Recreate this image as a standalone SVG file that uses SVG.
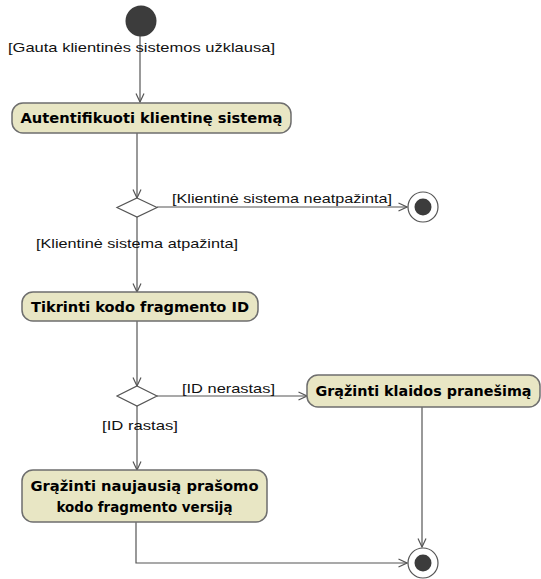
<svg xmlns="http://www.w3.org/2000/svg" width="541" height="579" viewBox="0 0 541 579">
  <style>
    .action { fill: #e8e6c4; stroke: #6e6e6e; stroke-width: 1.5; }
    .action-text { font-family: "DejaVu Sans", Verdana, sans-serif; font-weight: bold; font-size: 14px; fill: #000; text-anchor: middle; }
    .guard { font-family: "Liberation Sans", Arial, sans-serif; font-size: 13px; fill: #111; }
    .edge { fill: none; stroke: #555; stroke-width: 1.2; }
    .decision { fill: #fff; stroke: #555; stroke-width: 1.2; }
    .dot { fill: #3c3c3c; }
    .ring { fill: #fff; stroke: #555; stroke-width: 1.2; }
  </style>
  <defs>
    <marker id="open-arrow" viewBox="0 0 10 10" refX="9.5" refY="5" markerWidth="10" markerHeight="10" markerUnits="userSpaceOnUse" orient="auto">
      <path d="M1,1 L9.5,5 L1,9" fill="none" stroke="#555" stroke-width="1.2"/>
    </marker>
  </defs>
  <rect width="541" height="579" fill="#fff"/>

  <!-- connectors -->
  <g id="connectors">
    <path class="edge" d="M140,36 V102" marker-end="url(#open-arrow)"/>
    <path class="edge" d="M137,133 V198" marker-end="url(#open-arrow)"/>
    <path class="edge" d="M157,207 H407" marker-end="url(#open-arrow)"/>
    <path class="edge" d="M137,217 V292" marker-end="url(#open-arrow)"/>
    <path class="edge" d="M137,320 V386" marker-end="url(#open-arrow)"/>
    <path class="edge" d="M157,396 H307" marker-end="url(#open-arrow)"/>
    <path class="edge" d="M137,406 V470" marker-end="url(#open-arrow)"/>
    <path class="edge" d="M422,407 V547" marker-end="url(#open-arrow)"/>
    <path class="edge" d="M136,522 V563 H407" marker-end="url(#open-arrow)"/>
    <text class="guard" x="8" y="52" textLength="267" lengthAdjust="spacingAndGlyphs">[Gauta klientinės sistemos užklausa]</text>
    <text class="guard" x="172" y="203" textLength="220" lengthAdjust="spacingAndGlyphs">[Klientinė sistema neatpažinta]</text>
    <text class="guard" x="36" y="248" textLength="202" lengthAdjust="spacingAndGlyphs">[Klientinė sistema atpažinta]</text>
    <text class="guard" x="182" y="393" textLength="93" lengthAdjust="spacingAndGlyphs">[ID nerastas]</text>
    <text class="guard" x="102" y="430" textLength="76" lengthAdjust="spacingAndGlyphs">[ID rastas]</text>
  </g>

  <!-- nodes -->
  <g id="initial">
    <circle class="dot" cx="141" cy="21" r="15.5"/>
  </g>
  <g id="authenticate">
    <rect class="action" x="12" y="103" width="279" height="30" rx="11"/>
    <text class="action-text" x="151.5" y="123" textLength="262" lengthAdjust="spacingAndGlyphs">Autentifikuoti klientinę sistemą</text>
  </g>
  <g id="decision-auth">
    <polygon class="decision" points="137,198 157,207.5 137,217 117,207.5"/>
  </g>
  <g id="final-rejected">
    <circle class="ring" cx="423" cy="207" r="15"/>
    <circle class="dot" cx="423" cy="207" r="8.5"/>
  </g>
  <g id="check-id">
    <rect class="action" x="22" y="292" width="236" height="29" rx="11"/>
    <text class="action-text" x="140" y="311.5" textLength="218" lengthAdjust="spacingAndGlyphs">Tikrinti kodo fragmento ID</text>
  </g>
  <g id="decision-id">
    <polygon class="decision" points="137,386 157,396 137,406 117,396"/>
  </g>
  <g id="return-error">
    <rect class="action" x="307" y="375" width="233" height="32" rx="11"/>
    <text class="action-text" x="423.5" y="396" textLength="216" lengthAdjust="spacingAndGlyphs">Grąžinti klaidos pranešimą</text>
  </g>
  <g id="return-version">
    <rect class="action" x="22" y="470" width="245" height="52" rx="11"/>
    <text class="action-text" x="144.5" y="491" textLength="228" lengthAdjust="spacingAndGlyphs">Grąžinti naujausią prašomo</text>
    <text class="action-text" x="144.5" y="512" textLength="176" lengthAdjust="spacingAndGlyphs">kodo fragmento versiją</text>
  </g>
  <g id="final-done">
    <circle class="ring" cx="423" cy="563" r="15"/>
    <circle class="dot" cx="423" cy="563" r="8.5"/>
  </g>
</svg>
